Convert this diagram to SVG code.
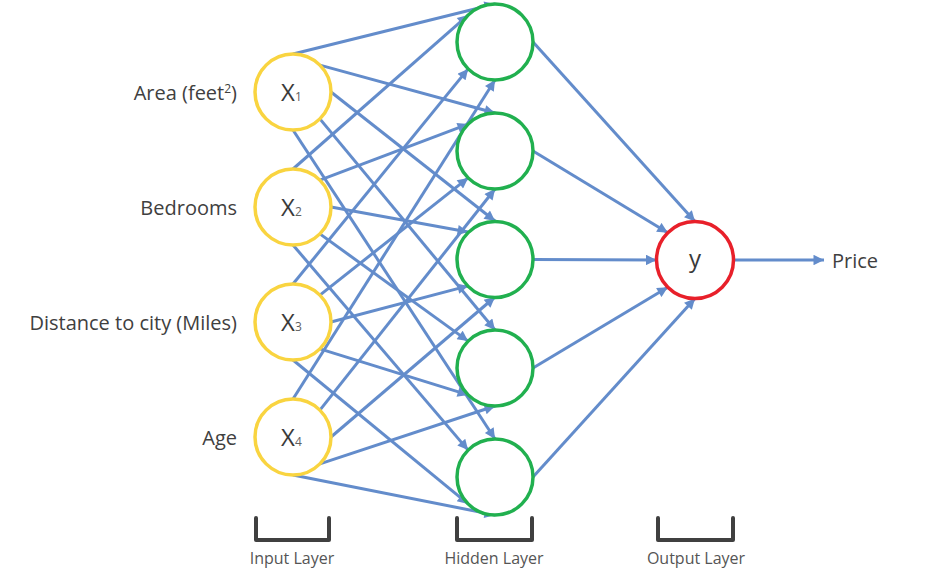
<svg xmlns="http://www.w3.org/2000/svg" width="930" height="571" viewBox="0 0 930 571">
<defs>
<marker id="ah" viewBox="0 0 10 10" refX="10" refY="5" markerWidth="4" markerHeight="3.5" orient="auto" markerUnits="strokeWidth">
<path d="M0,0 L10,5 L0,10 z" fill="#638CCB"/>
</marker>
<style>
.c{stroke:#638CCB;stroke-width:3;fill:none;marker-end:url(#ah)}
.in{fill:#fff;stroke:#F9D440;stroke-width:3.5}
.hid{fill:#fff;stroke:#21B04F;stroke-width:3.5}
.out{fill:#fff;stroke:#E8202A;stroke-width:3.5}
.lbl{font-family:"Open Sans","Noto Sans",sans-serif;font-size:20px;fill:#404040;text-anchor:end}
.nl{font-family:"Open Sans","Noto Sans",sans-serif;font-size:24px;fill:#3a3a3a}
.sub{font-size:12px;fill:#606060}
.br{fill:none;stroke:#404040;stroke-width:4;stroke-linejoin:round;stroke-linecap:round}
.bl{font-family:"Open Sans","Noto Sans",sans-serif;font-size:16px;fill:#555;text-anchor:middle}
</style>
</defs>
<g id="connectors">
<line class="c" x1="293" y1="54" x2="495" y2="4"/>
<line class="c" x1="319.9" y1="65.1" x2="495" y2="113"/>
<line class="c" x1="331" y1="92" x2="495" y2="221"/>
<line class="c" x1="319.9" y1="118.9" x2="495" y2="330"/>
<line class="c" x1="293" y1="130" x2="495" y2="439"/>
<line class="c" x1="293" y1="169" x2="468.1" y2="15.1"/>
<line class="c" x1="319.9" y1="180.1" x2="468.1" y2="124.1"/>
<line class="c" x1="331" y1="207" x2="468.1" y2="232.1"/>
<line class="c" x1="319.9" y1="233.9" x2="468.1" y2="341.1"/>
<line class="c" x1="293" y1="245" x2="468.1" y2="450.1"/>
<line class="c" x1="293" y1="284" x2="468.1" y2="68.9"/>
<line class="c" x1="319.9" y1="295.1" x2="468.1" y2="177.9"/>
<line class="c" x1="331" y1="322" x2="468.1" y2="285.9"/>
<line class="c" x1="319.9" y1="348.9" x2="468.1" y2="394.9"/>
<line class="c" x1="293" y1="360" x2="468.1" y2="503.9"/>
<line class="c" x1="293" y1="399" x2="495" y2="80"/>
<line class="c" x1="319.9" y1="410.1" x2="495" y2="189"/>
<line class="c" x1="331" y1="437" x2="495" y2="297"/>
<line class="c" x1="319.9" y1="463.9" x2="495" y2="406"/>
<line class="c" x1="293" y1="475" x2="495" y2="515"/>
<line class="c" x1="533" y1="42" x2="695" y2="221.5"/>
<line class="c" x1="533" y1="151" x2="667.8" y2="232.8"/>
<line class="c" x1="533" y1="259.5" x2="656.5" y2="260"/>
<line class="c" x1="533" y1="368" x2="667.8" y2="287.2"/>
<line class="c" x1="533" y1="477" x2="695" y2="298.5"/>
<line class="c" x1="733.5" y1="260" x2="824" y2="260"/>
</g>
<g id="x1"><circle class="in" cx="293" cy="92" r="38"/><text class="nl" x="281" y="101">X<tspan class="sub">1</tspan></text><text class="lbl" x="237" y="100">Area (feet<tspan font-size="12" dy="-7">2</tspan><tspan dy="7">)</tspan></text></g>
<g id="x2"><circle class="in" cx="293" cy="207" r="38"/><text class="nl" x="281" y="216">X<tspan class="sub">2</tspan></text><text class="lbl" x="237" y="215">Bedrooms</text></g>
<g id="x3"><circle class="in" cx="293" cy="322" r="38"/><text class="nl" x="281" y="331">X<tspan class="sub">3</tspan></text><text class="lbl" x="237" y="330">Distance to city (Miles)</text></g>
<g id="x4"><circle class="in" cx="293" cy="437" r="38"/><text class="nl" x="281" y="446">X<tspan class="sub">4</tspan></text><text class="lbl" x="237" y="445">Age</text></g>
<g id="h1"><circle class="hid" cx="495" cy="42" r="38"/></g>
<g id="h2"><circle class="hid" cx="495" cy="151" r="38"/></g>
<g id="h3"><circle class="hid" cx="495" cy="259.5" r="38"/></g>
<g id="h4"><circle class="hid" cx="495" cy="368" r="38"/></g>
<g id="h5"><circle class="hid" cx="495" cy="477" r="38"/></g>
<g id="y"><circle class="out" cx="695" cy="260" r="38.5"/><text class="nl" x="695" y="267" text-anchor="middle">y</text></g>
<g id="price"><text class="lbl" x="832" y="268" style="text-anchor:start">Price</text></g>
<g id="brackets">
<path class="br" d="M256,518 V540 H329 V518"/>
<path class="br" d="M457,518 V540 H532 V518"/>
<path class="br" d="M658,518 V540 H733 V518"/>
<text class="bl" x="292" y="564">Input Layer</text>
<text class="bl" x="494" y="564">Hidden Layer</text>
<text class="bl" x="696" y="564">Output Layer</text>
</g>
</svg>
